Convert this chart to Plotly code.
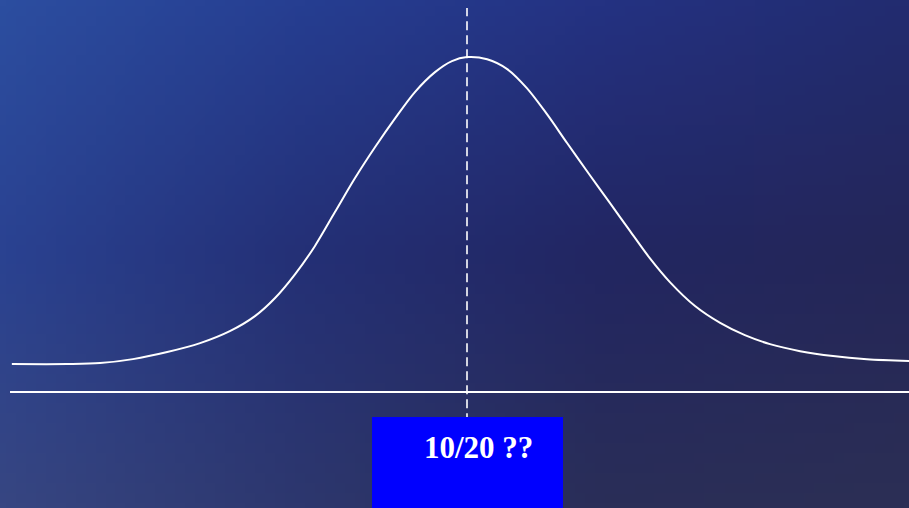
import zlib, struct, base64
import numpy as np
import plotly.graph_objects as go

# ---------------- data ----------------
grades = [0.04, 1.25, 1.97, 2.69, 3.44, 4.16, 4.81, 5.36, 5.80, 6.24, 6.67, 7.11,
          7.55, 7.99, 8.43, 8.86, 9.30, 9.67, 10.0, 10.44, 10.88, 11.31, 11.75,
          12.19, 12.67, 13.13, 13.57, 14.00, 14.44, 14.99, 15.54, 16.08, 16.63,
          17.29, 18.01, 18.75, 19.70]
density = [0.000, 0.000, 0.003, 0.016, 0.039, 0.068, 0.107, 0.156, 0.215, 0.293,
           0.384, 0.495, 0.606, 0.707, 0.801, 0.886, 0.951, 0.987, 1.000, 0.993,
           0.961, 0.899, 0.814, 0.720, 0.619, 0.524, 0.433, 0.345, 0.267, 0.189,
           0.134, 0.094, 0.065, 0.042, 0.026, 0.016, 0.010]
mean_grade = 10
label_text = "10/20 ??"

# ---------------- background gradient image ----------------
grid = np.array([
    [(44, 78, 160), (38, 62, 145), (36, 50, 130), (34, 44, 112)],
    [(42, 66, 145), (36, 48, 118), (34, 38, 98), (36, 38, 88)],
    [(55, 70, 130), (45, 55, 110), (42, 46, 88), (44, 47, 85)],
], dtype=float)
W, H = 91, 51
gy = np.linspace(0, grid.shape[0] - 1, H)
gx = np.linspace(0, grid.shape[1] - 1, W)
img = np.zeros((H, W, 3))
for i, yy in enumerate(gy):
    y0 = min(int(yy), grid.shape[0] - 2); fy = yy - y0
    for j, xx in enumerate(gx):
        x0 = min(int(xx), grid.shape[1] - 2); fx = xx - x0
        c = (grid[y0, x0] * (1 - fx) * (1 - fy) + grid[y0, x0 + 1] * fx * (1 - fy)
             + grid[y0 + 1, x0] * (1 - fx) * fy + grid[y0 + 1, x0 + 1] * fx * fy)
        img[i, j] = c
img = img.clip(0, 255).astype(np.uint8)


def png_uri(a):
    h, w, _ = a.shape
    raw = b"".join(b"\x00" + a[r].tobytes() for r in range(h))

    def chunk(t, d):
        return struct.pack(">I", len(d)) + t + d + struct.pack(">I", zlib.crc32(t + d) & 0xffffffff)
    png = (b"\x89PNG\r\n\x1a\n" + chunk(b"IHDR", struct.pack(">IIBBBBB", w, h, 8, 2, 0, 0, 0))
           + chunk(b"IDAT", zlib.compress(raw, 9)) + chunk(b"IEND", b""))
    return "data:image/png;base64," + base64.b64encode(png).decode()


# ---------------- figure ----------------
fig = go.Figure()
fig.add_trace(go.Scatter(x=grades, y=density, mode="lines",
                         line=dict(color="white", width=2, shape="spline", smoothing=0.9),
                         hoverinfo="skip", showlegend=False))

axis_y = -0.091
fig.add_shape(type="line", xref="x", yref="y", x0=0, x1=19.7, y0=axis_y, y1=axis_y,
              line=dict(color="white", width=2))
fig.add_shape(type="line", xref="x", yref="y", x0=mean_grade, x1=mean_grade, y0=-0.19, y1=1.16,
              line=dict(color="white", width=1.6, dash="9px,5px"))
fig.add_shape(type="rect", xref="paper", yref="paper", x0=372 / 909, x1=563 / 909,
              y0=0, y1=(508 - 417) / 508, fillcolor="#0000ff", line=dict(width=0))
fig.add_annotation(xref="paper", yref="paper", x=478 / 909, y=(508 - 447) / 508,
                   xanchor="center", yanchor="middle",
                   text=f"<b>{label_text}</b>", showarrow=False,
                   font=dict(family="Liberation Serif, Times New Roman, serif", size=31, color="white"))

fig.update_layout(
    width=909, height=508, margin=dict(l=0, r=0, t=0, b=0),
    paper_bgcolor="#2a3a80", plot_bgcolor="rgba(0,0,0,0)",
    xaxis=dict(range=[-0.219, 19.672], visible=False, fixedrange=True),
    yaxis=dict(range=[-0.469, 1.186], visible=False, fixedrange=True),
    images=[dict(source=png_uri(img), xref="paper", yref="paper", x=0, y=1, sizex=1, sizey=1,
                 xanchor="left", yanchor="top", sizing="stretch", layer="below")],
    showlegend=False,
)
fig.write_html("out.html", config={"displayModeBar": False},
               post_script="document.body.style.margin='0';document.body.style.overflow='hidden';")
